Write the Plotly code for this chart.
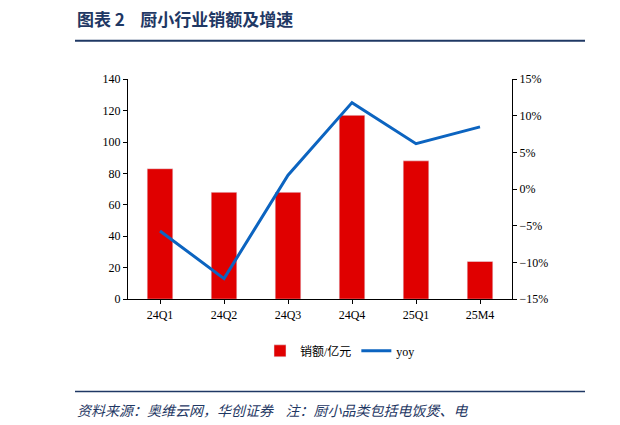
import plotly.graph_objects as go

quarters = ["24Q1", "24Q2", "24Q3", "24Q4", "25Q1", "25M4"]
sales = [83, 68, 68, 117, 88, 24]
yoy = [-5.7, -12.2, 1.9, 11.8, 6.2, 8.5]

W, H = 620, 425
font = "Times New Roman, Liberation Serif, Noto Sans CJK SC"
navy = "#1f3864"


# map screen pixel positions to paper coords (page shows an offset/scale)
def px(x):
    return (x - 8) / W


def py(y):
    return 1 - ((y - 16.7) / 0.954) / H


fig = go.Figure()
fig.add_trace(go.Bar(x=quarters, y=sales, name="销额/亿元", marker_color="#e00000", width=0.4))
fig.add_trace(go.Scatter(x=quarters, y=yoy, name="yoy", yaxis="y2", mode="lines",
                         line=dict(color="#0c64c0", width=3)))

fig.update_layout(
    width=W, height=H, plot_bgcolor="white", paper_bgcolor="white",
    margin=dict(l=0, r=0, t=0, b=0),
    font=dict(family=font, size=12, color="black"),
    xaxis=dict(domain=[px(128), px(512)], showline=True, linecolor="black", ticks="outside",
               ticklen=4, tickcolor="black"),
    yaxis=dict(domain=[py(297), py(80)], range=[0, 140], dtick=20, showgrid=False,
               showline=True, linecolor="black", ticks="outside", ticklen=4, tickcolor="black"),
    yaxis2=dict(overlaying="y", side="right", range=[-15, 15], dtick=5, ticksuffix="%",
                showgrid=False, showline=True, linecolor="black", ticks="outside", ticklen=4,
                tickcolor="black", anchor="x", zeroline=False),
    legend=dict(orientation="h", x=px(340), xanchor="center", y=py(348), yanchor="middle",
                font=dict(size=12)),
    showlegend=True,
)

# title, separator lines, source note
fig.add_annotation(text="<b>图表 2    厨小行业销额及增速</b>", x=px(75), y=py(20),
                   xref="paper", yref="paper", xanchor="left", yanchor="middle",
                   showarrow=False, font=dict(size=17, color=navy, family="Noto Sans CJK SC"))
for y0, w in [(42, 2), (388, 1.5)]:
    fig.add_shape(type="line", xref="paper", yref="paper", x0=px(75), x1=px(585),
                  y0=py(y0), y1=py(y0), line=dict(color=navy, width=w))
    fig.add_shape(type="line", xref="paper", yref="paper", x0=px(612), x1=1,
                  y0=py(y0), y1=py(y0), line=dict(color=navy, width=w))
fig.add_annotation(text="<i>资料来源：奥维云网，华创证券    注：厨小品类包括电饭煲、电</i>", x=px(75),
                   y=py(406), xref="paper", yref="paper", xanchor="left", yanchor="middle",
                   showarrow=False, font=dict(size=14, color=navy, family="Noto Sans CJK SC"))

fig.write_html("out.html")
